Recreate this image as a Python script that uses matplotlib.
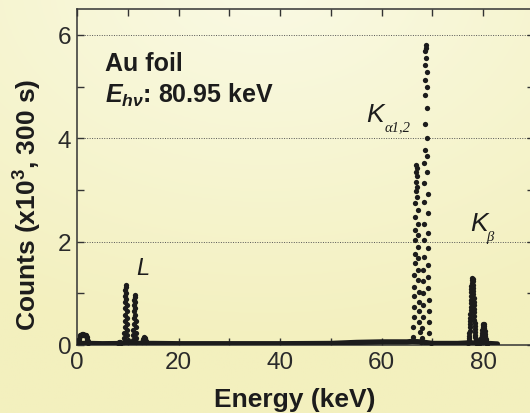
import numpy as np
import matplotlib
matplotlib.use("Agg")
import matplotlib.pyplot as plt
from matplotlib.ticker import MultipleLocator

plt.rcParams["font.family"] = ["Liberation Sans", "DejaVu Sans"]
plt.rcParams["mathtext.fontset"] = "custom"
plt.rcParams["mathtext.rm"] = "Liberation Sans:bold"
plt.rcParams["mathtext.bf"] = "Liberation Sans:bold"
plt.rcParams["mathtext.it"] = "Liberation Sans:italic:bold"

# spectrum baseline (keV, x10^3 counts)
base_e = [0.2, 2.5, 5, 10, 15, 20, 30, 40, 50, 55, 60, 65, 66, 67.8, 70, 75, 77, 79, 81, 82.8]
base_c = [0.03, 0.03, 0.025, 0.03, 0.03, 0.025, 0.025, 0.025, 0.03, 0.05, 0.06, 0.06, 0.07, 0.06, 0.03, 0.03, 0.04, 0.04, 0.03, 0.02]

# low energy bump (M lines)
m_e = [0.3, 0.35, 0.4, 0.5, 0.6, 0.7, 0.8, 0.9, 1.0, 1.1, 1.2, 1.3, 1.4, 1.5, 1.6, 1.7, 1.8, 1.9, 2.0, 2.05, 2.1, 2.2]
m_c = [0.05, 0.08, 0.12, 0.17, 0.19, 0.2, 0.2, 0.2, 0.21, 0.21, 0.2, 0.2, 0.2, 0.2, 0.19, 0.19, 0.18, 0.16, 0.12, 0.09, 0.07, 0.04]

# L lines
ll_e = [8.0, 8.2, 8.4, 8.6]
ll_c = [0.04, 0.06, 0.06, 0.04]
la_e = [9.60, 9.55, 9.52, 9.49, 9.47, 9.44, 9.42, 9.39, 9.35, 9.31, 9.25,
        9.66, 9.70, 9.73, 9.76, 9.78, 9.81, 9.84, 9.87, 9.91, 9.95]
la_c = [1.17, 1.07, 0.95, 0.83, 0.71, 0.59, 0.47, 0.35, 0.24, 0.14, 0.06,
        1.13, 1.01, 0.89, 0.77, 0.65, 0.53, 0.41, 0.29, 0.19, 0.10]
lb_e = [11.33, 11.28, 11.25, 11.21, 11.18, 11.15, 11.12, 11.08, 11.03,
        11.40, 11.44, 11.47, 11.50, 11.53, 11.57, 11.60, 11.65, 11.70]
lb_c = [0.97, 0.88, 0.77, 0.65, 0.53, 0.41, 0.29, 0.19, 0.10,
        0.93, 0.83, 0.71, 0.59, 0.47, 0.35, 0.24, 0.14, 0.06]
lg_e = [12.8, 12.9, 13.0, 13.1, 13.2, 13.3, 13.4, 13.5, 13.6]
lg_c = [0.05, 0.09, 0.12, 0.14, 0.15, 0.14, 0.11, 0.08, 0.05]

# K alpha lines
ka2_e = [66.82, 66.77, 66.72, 66.69, 66.65, 66.62, 66.58, 66.56, 66.52, 66.50, 66.46, 66.43, 66.40, 66.36, 66.31, 66.25, 66.15,
         66.91, 66.96, 66.99, 67.03, 67.06, 67.10, 67.13, 67.16, 67.19, 67.22, 67.25, 67.29, 67.32, 67.36, 67.42, 67.49, 67.65]
ka2_c = [3.48, 3.35, 3.16, 2.97, 2.74, 2.48, 2.23, 2.03, 1.77, 1.58, 1.35, 1.13, 0.94, 0.74, 0.55, 0.35, 0.16,
         3.42, 3.26, 3.06, 2.87, 2.61, 2.35, 2.13, 1.90, 1.68, 1.45, 1.26, 1.03, 0.84, 0.65, 0.45, 0.26, 0.06]
ka1_e = [68.67, 68.63, 68.59, 68.56, 68.53, 68.48, 68.44, 68.42, 68.39, 68.36, 68.32, 68.29, 68.26, 68.23, 68.21, 68.17, 68.14, 68.09, 68.03, 67.93,
         68.76, 68.79, 68.83, 68.86, 68.90, 68.94, 68.97, 69.00, 69.03, 69.06, 69.10, 69.12, 69.16, 69.18, 69.21, 69.25, 69.29, 69.33, 69.41, 69.70]
ka1_c = [5.81, 5.68, 5.42, 5.13, 4.84, 4.28, 3.78, 3.52, 3.13, 2.77, 2.35, 2.03, 1.71, 1.45, 1.23, 1.00, 0.78, 0.55, 0.32, 0.13,
         5.74, 5.55, 5.29, 4.99, 4.58, 4.00, 3.65, 3.35, 2.93, 2.55, 2.16, 1.87, 1.55, 1.32, 1.10, 0.87, 0.65, 0.45, 0.23, 0.03]

# K beta lines
kb1_e = [77.80, 77.76, 77.72, 77.69, 77.66, 77.64, 77.61, 77.58, 77.56, 77.53, 77.50, 77.47, 77.45, 77.42, 77.39, 77.36, 77.32, 77.29, 77.25, 77.22, 77.17, 77.12, 77.06,
         77.92, 77.96, 77.99, 78.02, 78.05, 78.08, 78.11, 78.13, 78.16, 78.19, 78.21, 78.24, 78.27, 78.30, 78.33, 78.36, 78.40, 78.43, 78.47, 78.51, 78.56, 78.62, 78.75]
kb1_c = [1.29, 1.25, 1.20, 1.14, 1.08, 1.02, 0.95, 0.88, 0.81, 0.74, 0.67, 0.60, 0.53, 0.46, 0.40, 0.34, 0.28, 0.23, 0.18, 0.14, 0.10, 0.07, 0.04,
         1.27, 1.23, 1.17, 1.11, 1.05, 0.98, 0.91, 0.84, 0.77, 0.70, 0.63, 0.56, 0.49, 0.43, 0.37, 0.31, 0.25, 0.20, 0.16, 0.12, 0.08, 0.05, 0.02]
kb2_e = [80.01, 79.92, 79.87, 79.81, 79.75, 79.70, 79.64, 79.58, 79.50, 79.41,
         80.11, 80.18, 80.22, 80.28, 80.33, 80.39, 80.45, 80.52, 80.59, 80.72]
kb2_c = [0.41, 0.38, 0.34, 0.29, 0.24, 0.19, 0.14, 0.10, 0.06, 0.03,
         0.40, 0.36, 0.32, 0.27, 0.22, 0.17, 0.12, 0.08, 0.05, 0.02]

ink = "#1c1c1c"

fig = plt.figure(figsize=(5.30, 4.14), dpi=100)

# soft yellow gradient background
bg = fig.add_axes([0, 0, 1, 1])
bg.axis("off")
yy, xx = np.mgrid[0:1:200j, 0:1:260j]
t = np.clip(np.sqrt((xx - 0.5) ** 2 + ((yy + 0.05) / 0.9) ** 2) / 1.0, 0, 1)
inner = np.array([250, 250, 229]) / 255.0
outer = np.array([243, 240, 190]) / 255.0
img = inner[None, None, :] * (1 - t[..., None]) + outer[None, None, :] * t[..., None]
bg.imshow(img, aspect="auto", extent=[0, 1, 0, 1], origin="upper")
bg.set_xlim(0, 1)
bg.set_ylim(0, 1)

ax = fig.add_axes([77 / 530, 68 / 414, 457 / 530, 336 / 414])
ax.set_facecolor("none")

ax.plot(base_e, base_c, "-", lw=3.8, color=ink, solid_capstyle="round", zorder=3)
for e, c in [(m_e, m_c), (ll_e, ll_c), (la_e, la_c), (lb_e, lb_c), (lg_e, lg_c),
             (ka2_e, ka2_c), (ka1_e, ka1_c), (kb1_e, kb1_c), (kb2_e, kb2_c)]:
    ax.plot(e, c, "o", ms=3.8, color=ink, mec="none", zorder=3)

ax.set_xlim(0, 90)
ax.set_ylim(0, 6.5)
ax.set_xticks([0, 20, 40, 60, 80])
ax.xaxis.set_minor_locator(MultipleLocator(10))
ax.set_yticks([0, 2, 4, 6])
ax.yaxis.set_minor_locator(MultipleLocator(1))
ax.tick_params(which="both", direction="in", top=True, right=True, length=5, width=1, color="#333333")
ax.tick_params(which="major", labelsize=17.5, labelcolor="#2a2a2a", pad=4)
ax.yaxis.grid(True, which="major", linestyle=(0, (1, 1.5)), color="#555555", lw=0.7)
for s in ax.spines.values():
    s.set_color("#333333")
    s.set_linewidth(1.1)

fig.text(295 / 530, 7 / 414, "Energy (keV)", fontsize=19, fontweight="bold", ha="center", va="baseline", color=ink)
fig.text(28 / 530, 0.505, r"Counts (x10$^{3}$, 300 s)", fontsize=19, fontweight="bold",
         rotation=90, ha="center", va="center", color=ink)

ax.text(0.061, 0.818, "Au foil", transform=ax.transAxes, fontsize=18, fontweight="bold", color=ink)
ax.text(0.061, 0.723, r"$E_{h\nu}$: 80.95 keV", transform=ax.transAxes, fontsize=18, fontweight="bold", color=ink)

ax.text(11.7, 1.37, "L", fontsize=17, style="italic", color=ink)
ax.text(57.0, 4.33, "K", fontsize=19, style="italic", color=ink)
ax.text(60.6, 4.16, "\u03b11,2", fontsize=10.5, style="italic", family=["Liberation Serif", "DejaVu Serif"], color=ink)
ax.text(77.4, 2.22, "K", fontsize=19, style="italic", color=ink)
ax.text(80.6, 2.03, "\u03b2", fontsize=10.5, style="italic", family=["Liberation Serif", "DejaVu Serif"], color=ink)

fig.savefig("out.png", dpi=100)
